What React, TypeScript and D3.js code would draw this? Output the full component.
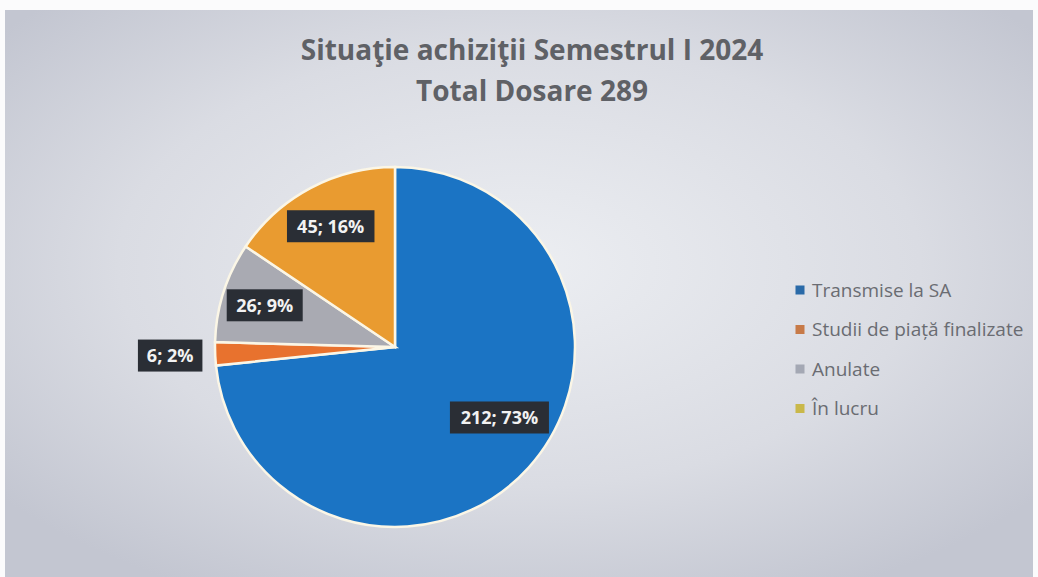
import React from "react";
import * as d3 from "d3";

const categories = ["Transmise la SA", "Studii de piață finalizate", "Anulate", "În lucru"];
const values = [212, 6, 26, 45];
const percents = ["73%", "2%", "9%", "16%"];
const colors = ["#1b74c4", "#e8722e", "#a9aab2", "#e99b30"];
const legendColors = ["#2a6aa8", "#c77a48", "#a4a8b4", "#c9b84a"];
const titleLines = ["Situaţie achiziţii Semestrul I 2024", "Total Dosare 289"];

const W = 1038;
const H = 577;
const cx = 395;
const cy = 347;
const R = 180;
const labelRadius = [0.7, 1.25, 0.76, 0.76];

export default function App() {
  const pie = d3.pie<number>().sort(null).value((d) => d)(values);
  const arc = d3.arc<d3.PieArcDatum<number>>().innerRadius(0).outerRadius(R);
  const font = "'Open Sans', 'Noto Sans', sans-serif";

  const labelPos = (p: d3.PieArcDatum<number>, i: number) => {
    const a = (p.startAngle + p.endAngle) / 2 - (i === 0 ? 0.14 : 0);
    const r = R * labelRadius[i];
    return [cx + r * Math.sin(a), cy - r * Math.cos(a)];
  };

  return (
    <svg width={W} height={H} style={{ position: "absolute", left: 0, top: 0 }}>
      <defs>
        <radialGradient id="bg" cx="50%" cy="45%" r="65%">
          <stop offset="0%" stopColor="#eceef2" />
          <stop offset="60%" stopColor="#dadce3" />
          <stop offset="100%" stopColor="#c3c6d1" />
        </radialGradient>
      </defs>
      <rect x={0} y={0} width={W} height={H} fill="#fbfbfc" />
      <rect x={5} y={10} width={W - 10} height={H - 10} fill="url(#bg)" />
      {titleLines.map((t, i) => (
        <text
          key={i}
          x={532}
          y={60 + i * 41}
          textAnchor="middle"
          fontFamily={font}
          fontWeight={700}
          fontSize={28}
          fill="#5f6166"
        >
          {t}
        </text>
      ))}
      <g transform={`translate(${cx},${cy})`}>
        {pie.map((p, i) => (
          <path key={i} d={arc(p) || ""} fill={colors[i]} stroke="#fbf6e6" strokeWidth={2.5} />
        ))}
      </g>
      {pie.map((p, i) => {
        const [x, y] = labelPos(p, i);
        const txt = `${values[i]}; ${percents[i]}`;
        const w = txt.length * 11.5 + 7;
        return (
          <g key={i}>
            <rect x={x - w / 2} y={y - 16} width={w} height={32} fill="#2a2e35" />
            <text
              x={x}
              y={y + 6.5}
              textAnchor="middle"
              fontFamily={font}
              fontWeight={700}
              fontSize={18}
              fill="#f2f2f2"
            >
              {txt}
            </text>
          </g>
        );
      })}
      {categories.map((c, i) => (
        <g key={i} transform={`translate(800,${290 + i * 39.5})`}>
          <rect x={-4.5} y={-4.5} width={9} height={9} fill={legendColors[i]} />
          <text x={12} y={6.5} fontFamily={font} fontSize={19} fill="#6a6c72">
            {c}
          </text>
        </g>
      ))}
    </svg>
  );
}
